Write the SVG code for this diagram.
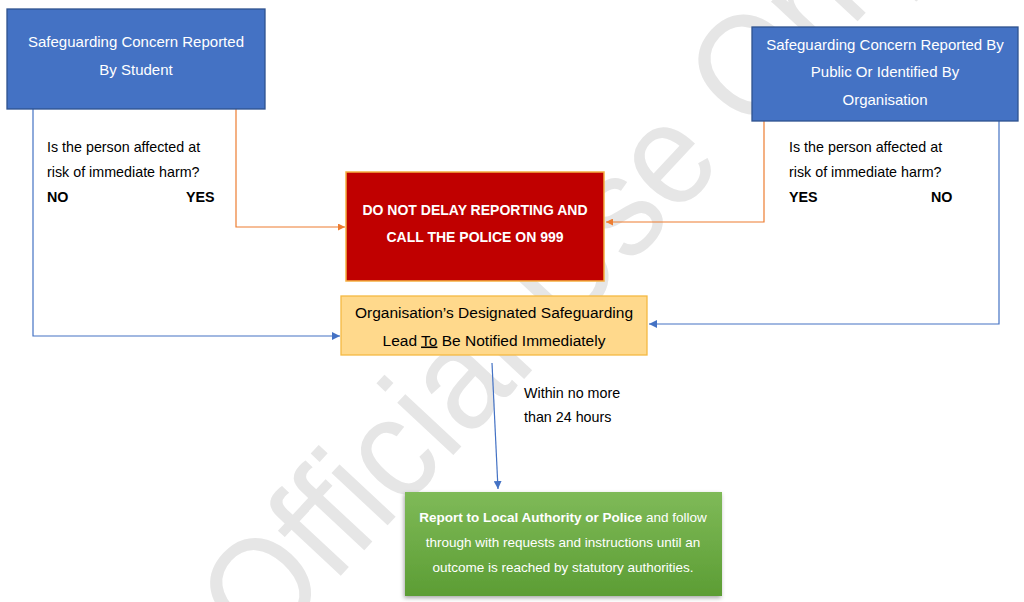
<svg xmlns="http://www.w3.org/2000/svg" width="1024" height="602" viewBox="0 0 1024 602">
<defs>
<style>
.t{font-family:"Liberation Sans",Arial,sans-serif;}
.box-text{font-size:15px;fill:#ffffff;text-anchor:middle;}
.lbl{font-size:14.3px;fill:#000000;}
.b{font-weight:bold;}
.red-text{font-size:14px;font-weight:bold;fill:#ffffff;text-anchor:middle;}
.yel-text{font-size:15.5px;fill:#000000;text-anchor:middle;}
.grn-text{font-size:13.5px;fill:#ffffff;text-anchor:middle;}
.or{fill:none;stroke:#ED7D31;stroke-width:1.2;}
.bl{fill:none;stroke:#4472C4;stroke-width:1.2;}
.wm{font-family:"Liberation Sans",Arial,sans-serif;font-size:145px;fill:#e6e6e6;}
</style>
<marker id="ao" viewBox="0 0 10 10" refX="10" refY="5" markerWidth="7" markerHeight="7" markerUnits="userSpaceOnUse" orient="auto"><path d="M0,0 L10,5 L0,10 z" fill="#ED7D31"/></marker>
<marker id="ab" viewBox="0 0 10 10" refX="10" refY="5" markerWidth="8" markerHeight="8" markerUnits="userSpaceOnUse" orient="auto"><path d="M0,0 L10,5 L0,10 z" fill="#4472C4"/></marker>
<linearGradient id="gg" x1="0" y1="0" x2="0" y2="1"><stop offset="0" stop-color="#7FBA58"/><stop offset="1" stop-color="#5C9D34"/></linearGradient>
<filter id="sh" x="-10%" y="-10%" width="120%" height="130%"><feDropShadow dx="-1" dy="2" stdDeviation="2" flood-color="#000" flood-opacity="0.35"/></filter>
</defs>
<rect width="1024" height="602" fill="#ffffff"/>
<g id="watermark">
<text class="wm" x="262" y="660" textLength="990" lengthAdjust="spacingAndGlyphs" transform="rotate(-47 262 660)">Official Use Only</text>
</g>
<g id="connectors">
<path class="or" d="M236,109 V227 H345" marker-end="url(#ao)"/>
<path class="or" d="M764,121 V222 H606" marker-end="url(#ao)"/>
<path class="bl" d="M33,109 V336 H340" marker-end="url(#ab)"/>
<path class="bl" d="M999,121 V324 H649" marker-end="url(#ab)"/>
<path class="bl" d="M492,363 L498,489" marker-end="url(#ab)"/>
</g>
<g id="student">
<rect x="7" y="9" width="258" height="100" fill="#4472C4" stroke="#2F528F" stroke-width="1.3"/>
<text class="t box-text" x="136" y="47">Safeguarding Concern Reported</text>
<text class="t box-text" x="136" y="75">By Student</text>
</g>
<g id="public">
<rect x="752" y="27" width="266" height="94" fill="#4472C4" stroke="#2F528F" stroke-width="1.3"/>
<text class="t box-text" x="885" y="50">Safeguarding Concern Reported By</text>
<text class="t box-text" x="885" y="77">Public Or Identified By</text>
<text class="t box-text" x="885" y="105">Organisation</text>
</g>
<g id="question-left">
<text class="t lbl" x="47" y="152">Is the person affected at</text>
<text class="t lbl" x="47" y="177">risk of immediate harm?</text>
<text class="t lbl b" x="47" y="202">NO</text>
<text class="t lbl b" x="186" y="202">YES</text>
</g>
<g id="question-right">
<text class="t lbl" x="789" y="152">Is the person affected at</text>
<text class="t lbl" x="789" y="177">risk of immediate harm?</text>
<text class="t lbl b" x="789" y="202">YES</text>
<text class="t lbl b" x="931" y="202">NO</text>
</g>
<g id="police">
<rect x="346" y="172" width="258" height="109" fill="#C00000" stroke="#F5B041" stroke-width="1.5"/>
<text class="t red-text" x="475" y="215">DO NOT DELAY REPORTING AND</text>
<text class="t red-text" x="475" y="242">CALL THE POLICE ON 999</text>
</g>
<g id="lead">
<rect x="341" y="296" width="306" height="59" fill="#FFD98C" stroke="#F4B942" stroke-width="1.3"/>
<text class="t yel-text" x="494" y="317.5">Organisation’s Designated Safeguarding</text>
<text class="t yel-text" x="494" y="345.5">Lead <tspan text-decoration="underline">To</tspan> Be Notified Immediately</text>
</g>
<g id="within-label">
<text class="t lbl" x="524" y="398">Within no more</text>
<text class="t lbl" x="524" y="422">than 24 hours</text>
</g>
<g id="report">
<rect x="405" y="492" width="317" height="104" fill="url(#gg)" filter="url(#sh)"/>
<text class="t grn-text" x="563" y="522"><tspan font-weight="bold">Report to Local Authority or Police</tspan> and follow</text>
<text class="t grn-text" x="563" y="547">through with requests and instructions until an</text>
<text class="t grn-text" x="563" y="572">outcome is reached by statutory authorities.</text>
</g>
</svg>
